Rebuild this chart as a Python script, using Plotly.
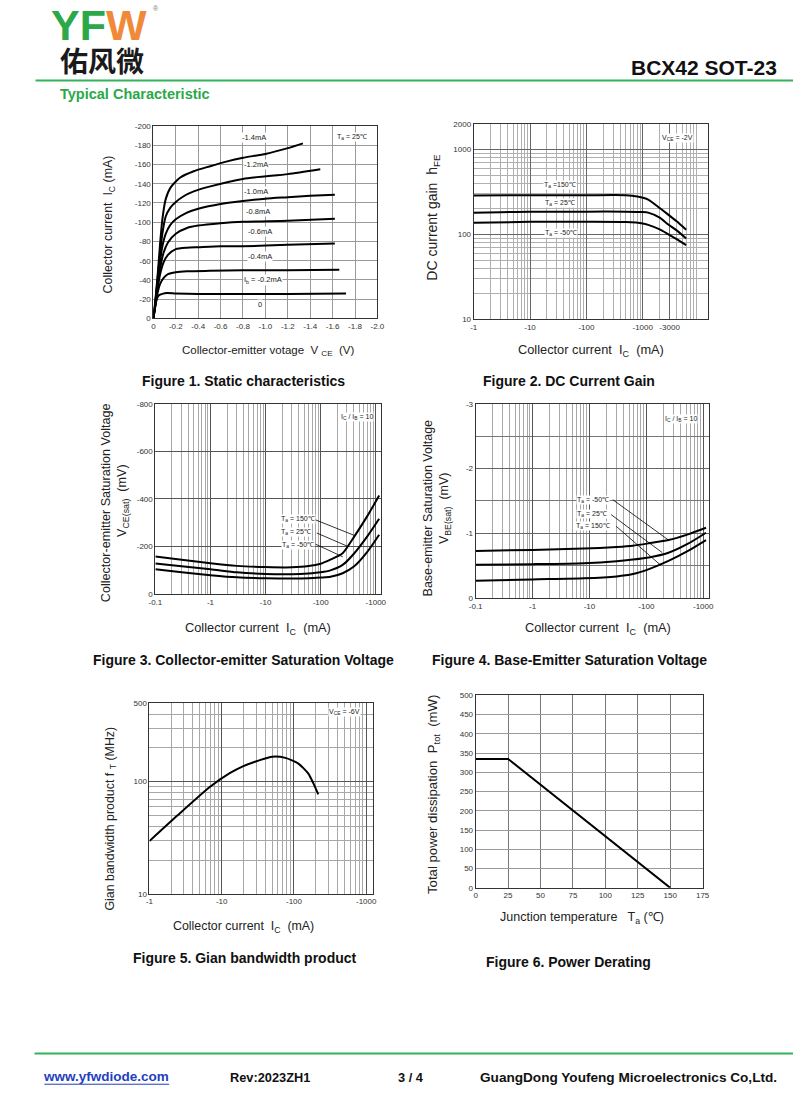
import math
import plotly.graph_objects as go

W, H = 800, 1117
FONT = "Liberation Sans, Arial, sans-serif"

# ---------------- DATA ----------------
# Figure 1: static characteristics (magnitudes: VCE in V, IC in mA)
ib_labels = ["-1.4mA", "-1.2mA", "-1.0mA", "-0.8mA", "-0.6mA", "-0.4mA", "I<sub>b</sub> = -0.2mA", "0"]
vce_14 = [0, 0.02, 0.04, 0.06, 0.08, 0.11, 0.153, 0.24, 0.36, 0.5, 0.65, 0.8, 1.0, 1.2, 1.335]
ic_14 = [0, 22, 48, 78, 103, 124, 136, 146.5, 153, 158, 163, 167, 171, 177, 182]
vce_12 = [0, 0.02, 0.04, 0.06, 0.08, 0.11, 0.15, 0.2, 0.27, 0.36, 0.5, 0.8, 1.2, 1.49]
ic_12 = [0, 20, 44, 68, 88, 106, 115, 121, 127, 132, 137, 145, 150, 155]
vce_10 = [0, 0.02, 0.04, 0.06, 0.08, 0.11, 0.15, 0.2, 0.3, 0.4, 0.6, 0.8, 1.0, 1.2, 1.4, 1.62]
ic_10 = [0, 19, 40, 60, 75, 88, 97, 103, 110, 114, 119, 122, 124.5, 126, 127.5, 128.6]
vce_08 = [0, 0.02, 0.04, 0.06, 0.09, 0.13, 0.2, 0.3, 0.4, 0.6, 0.8, 1.2, 1.62]
ic_08 = [0, 17, 36, 52, 68, 79, 88, 94, 96.5, 99, 100.5, 101.5, 103.5]
vce_06 = [0, 0.02, 0.04, 0.06, 0.09, 0.13, 0.2, 0.3, 0.4, 0.6, 0.8, 1.2, 1.62]
ic_06 = [0, 16, 33, 46, 58, 66, 72, 73.5, 74, 75, 75, 76.5, 78]
vce_04 = [0, 0.02, 0.04, 0.06, 0.09, 0.13, 0.2, 0.3, 0.5, 0.8, 1.2, 1.66]
ic_04 = [0, 15, 28, 36, 42, 46, 48, 49, 49.5, 50, 50, 50.5]
vce_02 = [0, 0.015, 0.03, 0.05, 0.08, 0.12, 0.2, 0.4, 0.8, 1.2, 1.72]
ic_02 = [0, 12, 20, 24, 25.5, 26.5, 26, 25.5, 25.5, 25.5, 25.8]
f1_label_x = [0.894, 0.92, 0.92, 0.93, 0.95, 0.95, 0.98, 0.95]
f1_label_y = [188, 160, 132, 111, 90, 64, 40, 14.5]

# Figure 2: DC current gain (IC magnitude mA)
ic2_150 = [1, 10, 100, 500, 800, 1250, 2000, 2760, 4000, 5900]
hfe_150 = [288, 290, 290, 290, 280, 258, 205, 174, 143, 114]
ic2_25 = [1, 3, 10, 100, 500, 1000, 1250, 2000, 2760, 4000, 5900]
hfe_25 = [180, 183, 185, 186, 186, 184, 181, 158, 133, 112, 90]
ic2_m50 = [1, 10, 100, 500, 1000, 1250, 2000, 2760, 4000, 5900]
hfe_m50 = [138, 141, 141, 140, 135, 130, 115, 102, 88, 75]

# Figure 3: VCE(sat) (IC mA, mV magnitudes)
ic3 = [0.1, 0.3, 1, 3, 10, 30, 60, 100, 150, 250, 400, 700, 1150]
vce_sat_150 = [158, 145, 130, 119, 114, 113, 118, 128, 145, 172, 240, 328, 415]
vce_sat_25 = [129, 117, 105, 92, 85, 84, 87, 92, 100, 123, 170, 243, 317]
vce_sat_m50 = [105, 92, 80, 71, 67, 66, 67, 70, 73, 88, 116, 178, 250]

# Figure 4: VBE(sat) (IC mA, V magnitudes)
ic4 = [0.1, 1, 8, 30, 58, 111, 245, 540, 1120]
vbe_m50 = [0.729, 0.745, 0.765, 0.79, 0.81, 0.847, 0.897, 0.985, 1.087]
vbe_25 = [0.515, 0.525, 0.54, 0.57, 0.595, 0.627, 0.70, 0.84, 1.01]
vbe_150 = [0.27, 0.29, 0.306, 0.335, 0.372, 0.449, 0.576, 0.73, 0.897]

# Figure 5: gain bandwidth product
ic5 = [1, 2.43, 6.9, 12.9, 19.6, 33, 50, 76, 115, 158, 185, 217]
ft5 = [29.5, 49.8, 90, 119, 137, 155, 167, 163, 145, 118, 97, 77]

# Figure 6: power derating
ta6 = [0, 25, 150]
ptot6 = [335, 335, 0]

# ---------------- HELPERS ----------------
def dx(a, b):
    return [a / W, b / W]

def dy(top, bottom):
    return [1 - bottom / H, 1 - top / H]

def px(x):
    return x / W

def py(y):
    return 1 - y / H

def minor_log(d0, d1):
    return [m * 10 ** d for d in range(d0, d1 + 1) for m in range(2, 10)]

fig = go.Figure()

def curve(x, y, xa, ya, width=2.0):
    fig.add_trace(go.Scatter(x=x, y=y, xaxis=xa, yaxis=ya, mode="lines",
                             line=dict(color="black", width=width, shape="spline", smoothing=0.6),
                             hoverinfo="skip", showlegend=False))

def leader(x, y, xa, ya):
    fig.add_trace(go.Scatter(x=x, y=y, xaxis=xa, yaxis=ya, mode="lines",
                             line=dict(color="black", width=0.8),
                             hoverinfo="skip", showlegend=False))

# Figure 1
for vx, iy in [(vce_14, ic_14), (vce_12, ic_12), (vce_10, ic_10), (vce_08, ic_08),
               (vce_06, ic_06), (vce_04, ic_04), (vce_02, ic_02)]:
    curve(vx, iy, "x", "y")
# Figure 2
curve(ic2_150, hfe_150, "x2", "y2")
curve(ic2_25, hfe_25, "x2", "y2")
curve(ic2_m50, hfe_m50, "x2", "y2")
# Figure 3
curve(ic3, vce_sat_150, "x3", "y3")
curve(ic3, vce_sat_25, "x3", "y3")
curve(ic3, vce_sat_m50, "x3", "y3")
leader([79, 407], [313, 247], "x3", "y3")
leader([85, 309], [257, 201], "x3", "y3")
leader([81, 251], [210, 157], "x3", "y3")
# Figure 4
curve(ic4, vbe_m50, "x4", "y4")
curve(ic4, vbe_25, "x4", "y4")
curve(ic4, vbe_150, "x4", "y4")
leader([25.7, 245], [1.52, 0.897], "x4", "y4")
leader([24, 190], [1.29, 0.704], "x4", "y4")
leader([29.5, 178], [1.11, 0.51], "x4", "y4")
# Figure 5
curve(ic5, ft5, "x5", "y5")
# Figure 6
fig.add_trace(go.Scatter(x=ta6, y=ptot6, xaxis="x6", yaxis="y6", mode="lines",
                         line=dict(color="black", width=2), hoverinfo="skip", showlegend=False))

# ---------------- AXES ----------------
TICKF = dict(family=FONT, size=8, color="#333")
frame = dict(showline=True, mirror=True, linecolor="#333", linewidth=1, ticks="",
             zeroline=False, tickfont=TICKF, fixedrange=True)

# Fig 1 axes
f1x = [round(0.2 * i, 1) for i in range(11)]
f1y = list(range(0, 201, 20))
fig.update_layout(
    xaxis=dict(domain=dx(149, 377), anchor="y", range=[0, 2.0], tickvals=f1x,
               ticktext=["0"] + ["-%.1f" % v for v in f1x[1:]],
               showgrid=True, gridcolor="#9a9a9a", gridwidth=1, **frame),
    yaxis=dict(domain=dy(123, 317), anchor="x", range=[0, 200], tickvals=f1y,
               ticktext=["0"] + ["-%d" % v for v in f1y[1:]],
               showgrid=True, gridcolor="#9a9a9a", gridwidth=1, **frame),
)

# Fig 2 axes
fig.update_layout(
    xaxis2=dict(domain=dx(475, 713), anchor="y2", type="log", range=[0, 4.15],
                tickvals=[1, 10, 100, 1000, 3000], ticktext=["-1", "-10", "-100", "-1000", "-3000"],
                showgrid=True, gridcolor="#666", gridwidth=1,
                minor=dict(tickvals=minor_log(0, 4), showgrid=True, gridcolor="#b0b0b0", gridwidth=1),
                **frame),
    yaxis2=dict(domain=dy(121, 318), anchor="x2", type="log", range=[1, math.log10(2000)],
                tickvals=[10, 100, 1000, 2000], ticktext=["10", "100", "1000", "2000"],
                showgrid=True, gridcolor="#666", gridwidth=1,
                minor=dict(tickvals=minor_log(1, 3), showgrid=True, gridcolor="#b0b0b0", gridwidth=1),
                **frame),
)

# Fig 3 axes
fig.update_layout(
    xaxis3=dict(domain=dx(151, 381), anchor="y3", type="log", range=[-1, 3.1],
                tickvals=[0.1, 1, 10, 100, 1000], ticktext=["-0.1", "-1", "-10", "-100", "-1000"],
                showgrid=True, gridcolor="#555", gridwidth=1,
                minor=dict(tickvals=minor_log(-1, 3), showgrid=True, gridcolor="#a8a8a8", gridwidth=1),
                **frame),
    yaxis3=dict(domain=dy(403, 595), anchor="x3", range=[0, 800],
                tickvals=[0, 200, 400, 600, 800], ticktext=["0", "-200", "-400", "-600", "-800"],
                showgrid=True, gridcolor="#555", gridwidth=1, **frame),
)

# Fig 4 axes
fig.update_layout(
    xaxis4=dict(domain=dx(477, 715), anchor="y4", type="log", range=[-1, 3.11],
                tickvals=[0.1, 1, 10, 100, 1000], ticktext=["-0.1", "-1", "-10", "-100", "-1000"],
                showgrid=True, gridcolor="#555", gridwidth=1,
                minor=dict(tickvals=minor_log(-1, 3), showgrid=True, gridcolor="#a8a8a8", gridwidth=1),
                **frame),
    yaxis4=dict(domain=dy(403, 599), anchor="x4", range=[0, 3],
                tickvals=[0, 1, 2, 3], ticktext=["0", "-1", "-2", "-3"],
                showgrid=True, gridcolor="#666", gridwidth=1,
                minor=dict(tickvals=[0.5, 1.5, 2.5], showgrid=True, gridcolor="#777", gridwidth=1),
                **frame),
)

# Fig 5 axes
fig.update_layout(
    xaxis5=dict(domain=dx(145, 373), anchor="y5", type="log", range=[0, 3.1],
                tickvals=[1, 10, 100, 1000], ticktext=["-1", "-10", "-100", "-1000"],
                showgrid=True, gridcolor="#555", gridwidth=1,
                minor=dict(tickvals=minor_log(0, 3), showgrid=True, gridcolor="#a8a8a8", gridwidth=1),
                **frame),
    yaxis5=dict(domain=dy(705, 897), anchor="x5", type="log", range=[1, math.log10(500)],
                tickvals=[10, 100, 500], ticktext=["10", "100", "500"],
                showgrid=True, gridcolor="#555", gridwidth=1,
                minor=dict(tickvals=minor_log(1, 2), showgrid=True, gridcolor="#a8a8a8", gridwidth=1),
                **frame),
)

# Fig 6 axes
fig.update_layout(
    xaxis6=dict(domain=dx(477, 708), anchor="y6", range=[0, 175], tickvals=list(range(0, 176, 25)),
                showgrid=True, gridcolor="#777", gridwidth=1, **frame),
    yaxis6=dict(domain=dy(697, 891), anchor="x6", range=[0, 500], tickvals=list(range(0, 501, 50)),
                showgrid=True, gridcolor="#9a9a9a", gridwidth=1, **frame),
)

# ---------------- ANNOTATIONS ----------------
ann = []

def inplot(text, x, y, xa, ya, size=7.5, bg="white"):
    ann.append(dict(text=text, x=x, y=y, xref=xa, yref=ya, showarrow=False,
                    font=dict(family=FONT, size=size, color="#222"), bgcolor=bg,
                    xanchor="center", yanchor="middle", borderpad=0))

def paper(text, x, y, size=11, bold=False, color="#222", angle=0, xanchor="center", family=FONT,
          yanchor="middle"):
    ann.append(dict(text=("<b>%s</b>" % text) if bold else text, x=px(x), y=py(y),
                    xref="paper", yref="paper", showarrow=False, textangle=angle,
                    font=dict(family=family, size=size, color=color),
                    xanchor=xanchor, yanchor=yanchor, borderpad=0))

# Fig 1 labels
for t, lx, ly in zip(ib_labels, f1_label_x, f1_label_y):
    inplot(t, lx, ly, "x", "y", size=7.5)
inplot("T<sub>a</sub> = 25℃", 1.77, 189, "x", "y", size=7)

# Fig 2 labels (log axes use log10 positions)
L = math.log10
inplot("T<sub>a</sub> =150℃", L(34), L(380), "x2", "y2", size=7)
inplot("T<sub>a</sub> = 25℃", L(34), L(235), "x2", "y2", size=7)
inplot("T<sub>a</sub> = -50℃", L(36), L(103), "x2", "y2", size=7)
inplot("V<sub>CE</sub> = -2V", L(4150), L(1380), "x2", "y2", size=7)

# Fig 3 labels
inplot("T<sub>a</sub> = 150℃", L(38), 317, "x3", "y3", size=7)
inplot("T<sub>a</sub> = 25℃", L(36), 261, "x3", "y3", size=7)
inplot("T<sub>a</sub> = -50℃", L(38), 208, "x3", "y3", size=7)
inplot("I<sub>C</sub> / I<sub>B</sub> = 10", L(447), 746, "x3", "y3", size=7)

# Fig 4 labels
inplot("T<sub>a</sub> = -50℃", L(11.5), 1.52, "x4", "y4", size=7)
inplot("T<sub>a</sub> = 25℃", L(11.0), 1.30, "x4", "y4", size=7)
inplot("T<sub>a</sub> = 150℃", L(11.5), 1.11, "x4", "y4", size=7)
inplot("I<sub>C</sub> / I<sub>B</sub> = 10", L(400), 2.77, "x4", "y4", size=7)

# Fig 5 label
inplot("V<sub>CE</sub> = -6V", L(500), L(417), "x5", "y5", size=7)

# Axis titles
paper("Collector current  I<sub>C</sub> (mA)", 104, 222, size=12.4, angle=-90)
paper("Collector-emitter votage  V <sub>CE</sub>  (V)", 266, 350, size=11.5)
paper("DC current gain  h<sub>FE</sub>", 434, 215, size=14, angle=-90)
paper("Collector current  I<sub>C</sub>  (mA)", 594, 349, size=12.8)
paper("Collector-emitter Saturation Voltage", 101, 503, size=12.6, angle=-90)
paper("V<sub>CE(sat)</sub>  (mV)", 118, 500, size=12.6, angle=-90)
paper("Collector current  I<sub>C</sub>  (mA)", 255, 630, size=12.8)
paper("Base-emitter Saturation Voltage", 428, 508, size=12.5, angle=-90)
paper("V<sub>BE(sat)</sub>  (mV)", 446, 508, size=12.5, angle=-90)
paper("Collector current  I<sub>C</sub>  (mA)", 602, 630, size=12.8)
paper("Gian bandwidth product f <sub>T</sub> (MHz)", 106, 821, size=12.4, angle=-90)
paper("Collector current  I<sub>C</sub>  (mA)", 241, 930, size=12.4)
paper("Total power dissipation  P<sub>tot</sub>  (mW)", 434, 797, size=13.2, angle=-90)
paper("Junction temperature   T<sub>a</sub> (℃)", 585, 921, size=12.5)

# Captions
paper("Figure 1. Static characteristics", 241, 380, size=14, bold=True, color="#111")
paper("Figure 2. DC Current Gain", 572, 380, size=14, bold=True, color="#111")
paper("Figure 3. Collector-emitter Saturation Voltage", 241, 661, size=14, bold=True, color="#111")
paper("Figure 4. Base-Emitter Saturation Voltage", 573, 661, size=14, bold=True, color="#111")
paper("Figure 5. Gian bandwidth product", 242, 962, size=14, bold=True, color="#111")
paper("Figure 6. Power Derating", 571, 966, size=14, bold=True, color="#111")

# Header
paper("<span style='color:#2BA84A'>YF</span><span style='color:#F0893A'>W</span>", 94, 21,
      size=43, bold=True)
paper("®", 152, 5, size=7, color="#777")
paper("佑风微", 97, 56, size=28, bold=True, color="#1a1a1a", family="Noto Sans CJK SC")
paper("BCX42 SOT-23", 785, 64, size=21, bold=True, color="#111", xanchor="right")
paper("Typical Characteristic", 53, 91, size=14.5, bold=True, color="#2BA84A", xanchor="left")

# Footer
paper("www.yfwdiode.com", 36, 1081, size=13.5, bold=True, color="#1F3FBF", xanchor="left")
paper("Rev:2023ZH1", 226, 1082, size=12.8, bold=True, color="#111", xanchor="left")
paper("3 / 4", 411, 1082, size=12.8, bold=True, color="#111")
paper("GuangDong Youfeng Microelectronics Co,Ltd.", 480, 1082, size=13.6, bold=True, color="#111",
      xanchor="left")

shapes = [
    dict(type="line", xref="paper", yref="paper", x0=px(29), x1=px(800), y0=py(77), y1=py(77),
         line=dict(color="#33B35A", width=2)),
    dict(type="line", xref="paper", yref="paper", x0=px(28), x1=px(800), y0=py(1058), y1=py(1058),
         line=dict(color="#33B35A", width=2)),
    dict(type="line", xref="paper", yref="paper", x0=px(38), x1=px(165), y0=py(1089), y1=py(1089),
         line=dict(color="#1F3FBF", width=1)),
]

fig.update_layout(width=W, height=H, margin=dict(l=0, r=0, t=0, b=0),
                  paper_bgcolor="white", plot_bgcolor="white", showlegend=False,
                  annotations=ann, shapes=shapes, font=dict(family=FONT))

fig.write_html("out.html", config={"displayModeBar": False, "staticPlot": True},
               post_script="document.body.style.margin='0';document.body.style.overflow='hidden';")
